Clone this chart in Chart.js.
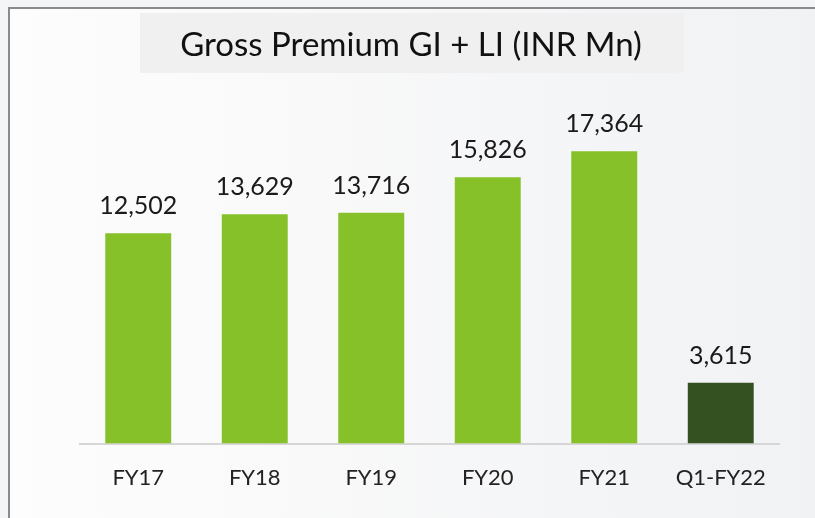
<!DOCTYPE html>
<html><head><meta charset="utf-8">
<script src="https://cdn.jsdelivr.net/npm/chart.js@4/dist/chart.umd.min.js"></script>
<style>html,body{margin:0;padding:0;background:#f2f3f5;}#wrap{width:815px;height:518px;position:relative;}</style>
</head><body><div id="wrap"><canvas id="c" width="815" height="518"></canvas></div>
<script>
const categories = ["FY17","FY18","FY19","FY20","FY21","Q1-FY22"];
const premiumValues = [12502,13629,13716,15826,17364,3615];
const valueLabels = ["12,502","13,629","13,716","15,826","17,364","3,615"];
const barColors = ["#86c12a","#86c12a","#86c12a","#86c12a","#86c12a","#345221"];
const chartTitle = "Gross Premium GI + LI (INR Mn)";

const bgPlugin = {
  id:'bg',
  beforeDraw(chart){
    const ctx = chart.ctx;
    ctx.save();
    ctx.fillStyle = '#f4f5f7';
    ctx.fillRect(0,0,815,518);
    const g = ctx.createLinearGradient(9,0,815,0);
    g.addColorStop(0,'#fdfdfd');
    g.addColorStop(1,'#f1f2f4');
    ctx.fillStyle = g;
    ctx.fillRect(9,9,806,509);
    ctx.strokeStyle = '#8a8a8a';
    ctx.lineWidth = 2;
    ctx.beginPath();
    ctx.moveTo(9,518); ctx.lineTo(9,8); ctx.lineTo(815,8);
    ctx.stroke();
    ctx.fillStyle = '#f0f0f0';
    ctx.fillRect(140,13,544,60);
    ctx.fillStyle = '#111';
    ctx.font = '33px Lato, "Open Sans", sans-serif';
    ctx.textAlign = 'center';
    ctx.textBaseline = 'middle';
    ctx.fillText(chartTitle, 411, 45);
    ctx.restore();
  },
  afterDatasetsDraw(chart){
    const ctx = chart.ctx;
    const meta = chart.getDatasetMeta(0);
    ctx.save();
    ctx.fillStyle = '#1a1a1a';
    ctx.font = '25px Lato, "Open Sans", sans-serif';
    ctx.textAlign = 'center';
    ctx.textBaseline = 'middle';
    meta.data.forEach((bar,i)=>{
      ctx.fillText(valueLabels[i], bar.x, bar.y - 27);
    });
    ctx.restore();
  }
};

new Chart(document.getElementById('c'), {
  type:'bar',
  data:{labels:categories, datasets:[{data:premiumValues, backgroundColor:barColors, categoryPercentage:1.0, barPercentage:0.566}]},
  options:{
    responsive:false, animation:false,
    layout:{padding:{left:80,right:36,top:107,bottom:6}},
    plugins:{legend:{display:false},tooltip:{enabled:false},title:{display:false}},
    scales:{
      x:{grid:{display:false,drawTicks:false},border:{display:true,color:'#d6d6d6',width:2},
         ticks:{color:'#222',font:{size:22,family:'Lato, "Open Sans", sans-serif'},padding:21}},
      y:{display:false,min:0,max:20000}
    }
  },
  plugins:[bgPlugin]
});
</script></body></html>
